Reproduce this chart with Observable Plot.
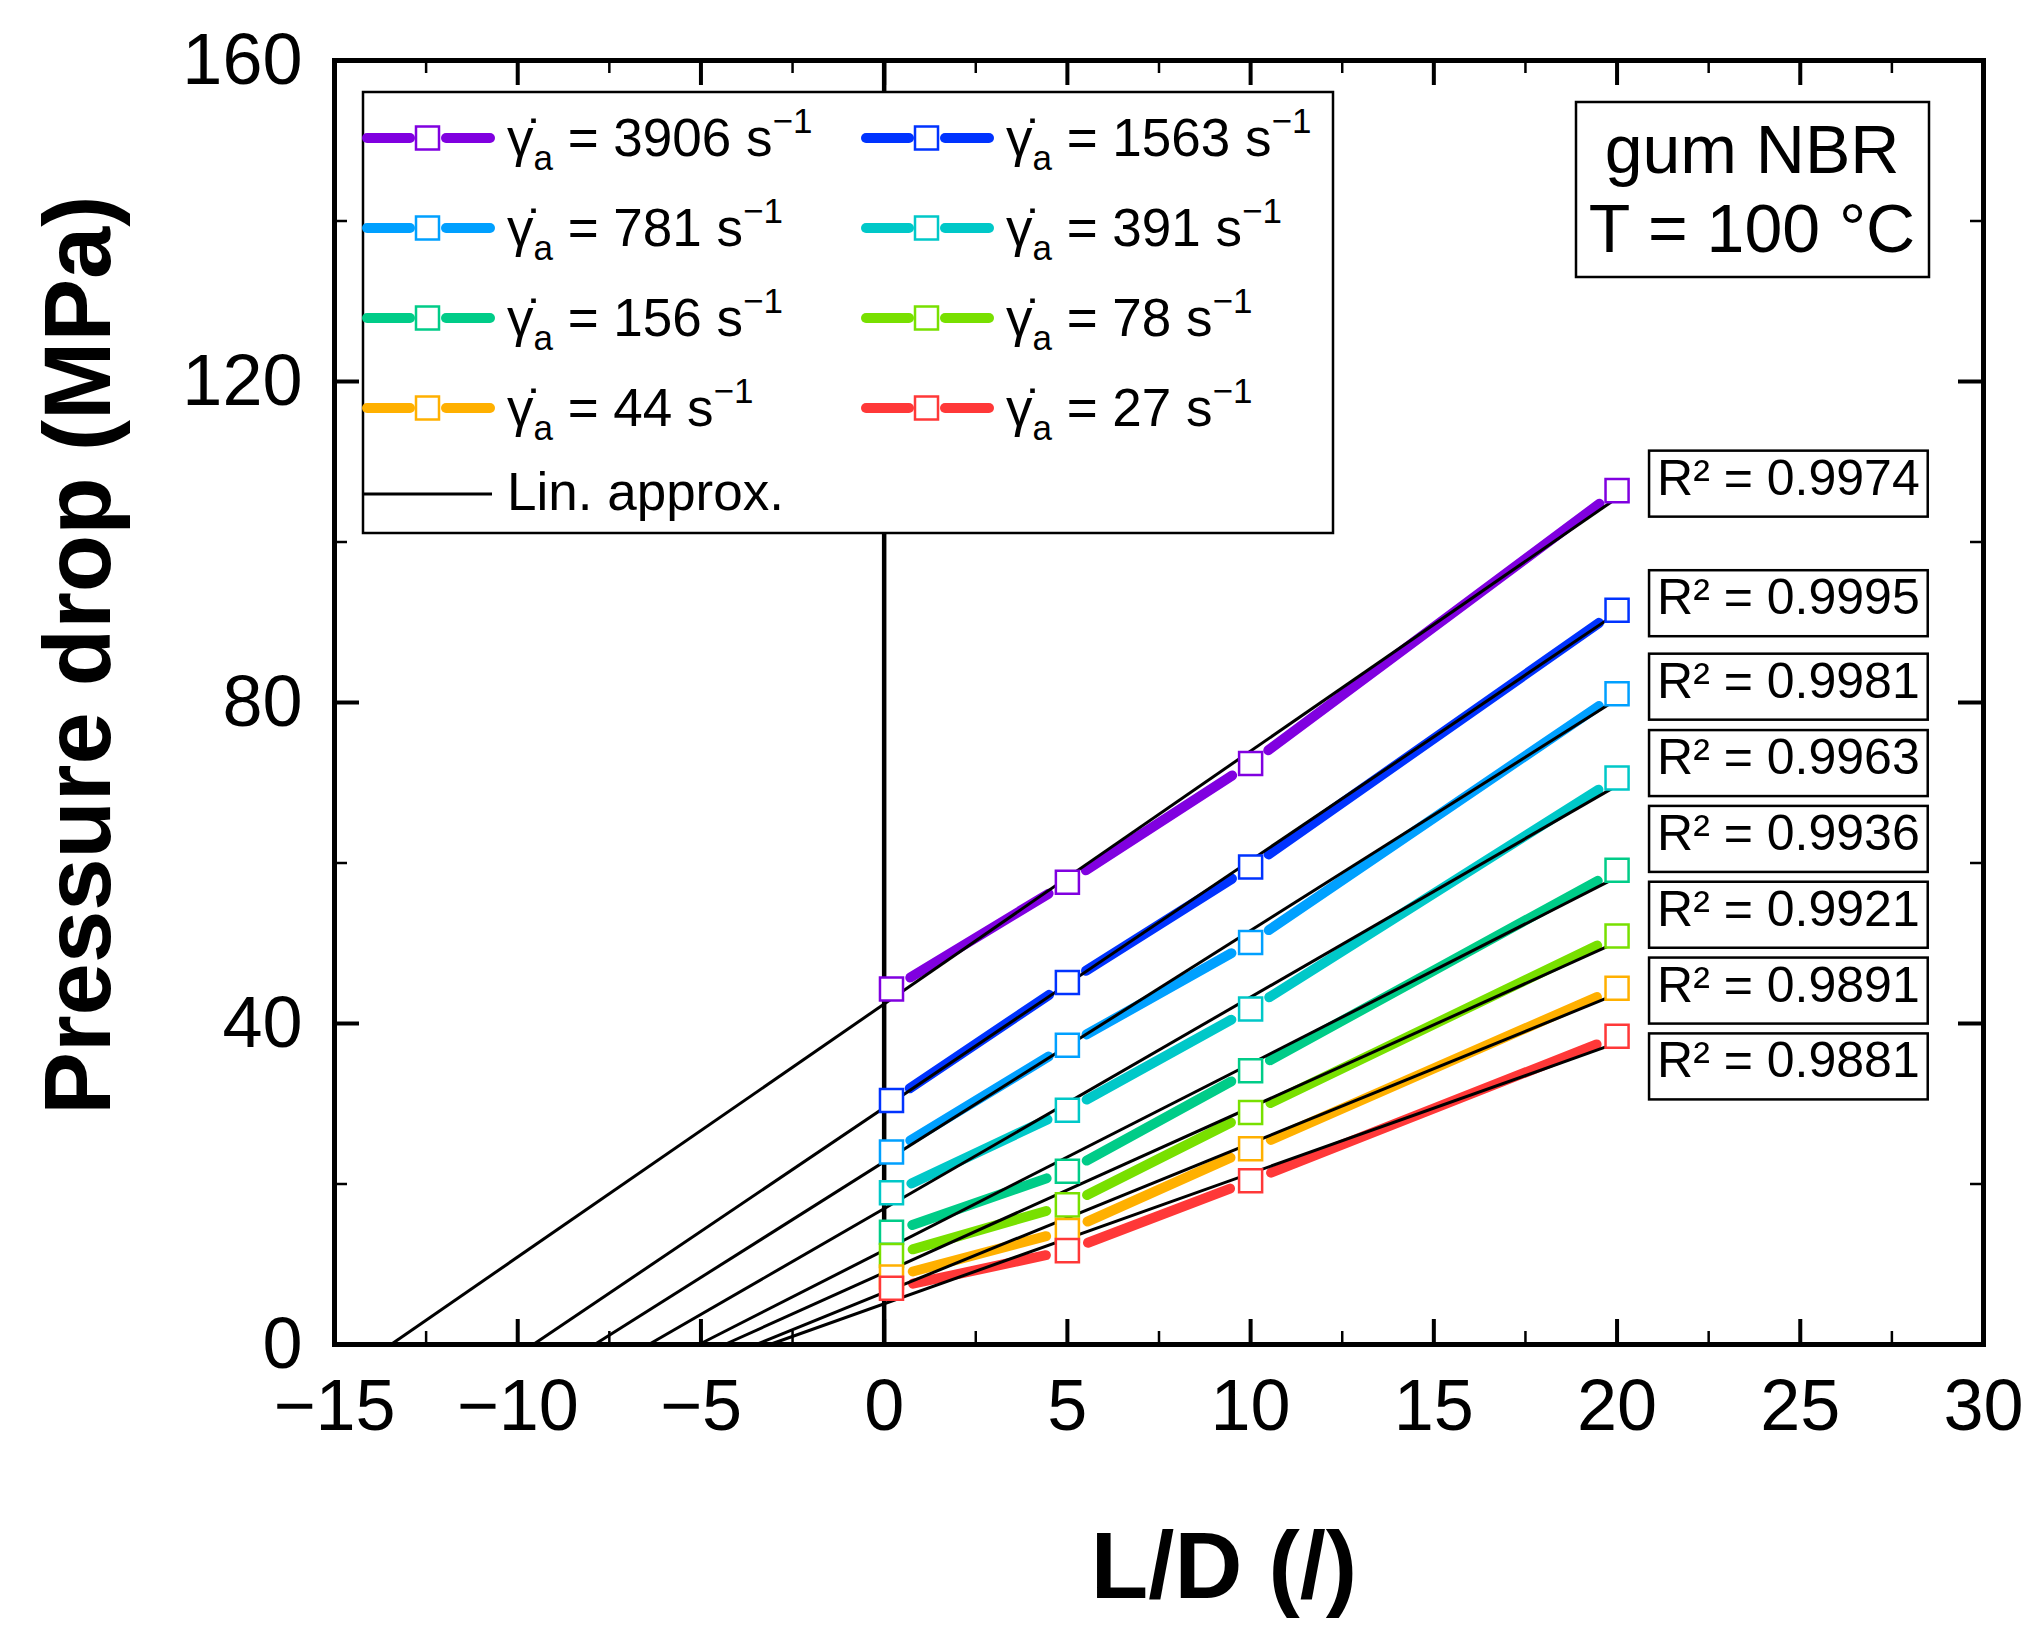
<!DOCTYPE html>
<html>
<head>
<meta charset="utf-8">
<script src="https://cdn.jsdelivr.net/npm/d3@7"></script>
<script src="https://cdn.jsdelivr.net/npm/@observablehq/plot@0.6"></script>
<style>
  html, body { margin: 0; padding: 0; background: #fff; overflow: hidden; }
  #chart { position: relative; width: 2040px; height: 1637px; }
</style>
</head>
<body>
<div id="chart"></div>
<script>
// Apparent shear rates (1/s) and their series colours
const shearRates = [3906, 1563, 781, 391, 156, 78, 44, 27];
const colors = ["#8000E0", "#0033FF", "#00A0FF", "#00C8C8", "#00CC88", "#78E000", "#FFB000", "#FF3838"];

// Die length-to-diameter ratios
const ldRatios = [0.2, 5, 10, 20];

// Measured pressure drop (MPa) for each shear rate
const dp3906 = [44.3, 57.6, 72.4, 106.4];
const dp1563 = [30.4, 45.1, 59.5, 91.5];
const dp781  = [24.0, 37.3, 50.1, 81.1];
const dp391  = [18.9, 29.2, 41.8, 70.6];
const dp156  = [14.0, 21.6, 34.1, 59.1];
const dp78   = [11.1, 17.4, 28.9, 50.9];
const dp44   = [8.4, 14.2, 24.4, 44.4];
const dp27   = [7.0, 11.7, 20.4, 38.4];

// Coefficients of determination of the linear approximations
const rSquared = [0.9974, 0.9995, 0.9981, 0.9963, 0.9936, 0.9921, 0.9891, 0.9881];

// Axis ticks
const xMajor = [-15, -10, -5, 0, 5, 10, 15, 20, 25, 30];
const xMinor = [-12.5, -7.5, -2.5, 2.5, 7.5, 12.5, 17.5, 22.5, 27.5];
const yMajor = [0, 40, 80, 120, 160];
const yMinor = [20, 60, 100, 140];

const pressureDrops = [dp3906, dp1563, dp781, dp391, dp156, dp78, dp44, dp27];

// Least-squares line through the Bagley points
function linearFit(xs, ys) {
  const mx = d3.mean(xs), my = d3.mean(ys);
  const sxy = d3.sum(xs, (x, i) => (x - mx) * (ys[i] - my));
  const sxx = d3.sum(xs, x => (x - mx) ** 2);
  const slope = sxy / sxx;
  return {slope, intercept: my - slope * mx};
}

const series = shearRates.map((rate, i) => ({
  rate,
  color: colors[i],
  values: pressureDrops[i],
  r2: rSquared[i],
  fit: linearFit(ldRatios, pressureDrops[i])
}));

const points = series.flatMap(s => s.values.map((v, j) => ({ld: ldRatios[j], dp: v, color: s.color})));
const segments = series.flatMap(s => s.values.slice(1).map((v, j) => ({
  x1: ldRatios[j], y1: s.values[j], x2: ldRatios[j + 1], y2: v, color: s.color
})));
const xEnd = d3.max(ldRatios);
const fits = series.map(s => ({
  x1: -s.fit.intercept / s.fit.slope, y1: 0,
  x2: xEnd, y2: s.fit.intercept + s.fit.slope * xEnd
}));

// Spread the R² labels vertically so they do not overlap
function spreadLabels(targets, gap) {
  let clusters = targets.map((t, i) => ({members: [i], center: t}));
  let merged = true;
  while (merged) {
    merged = false;
    for (let k = 0; k < clusters.length - 1; k++) {
      const a = clusters[k], b = clusters[k + 1];
      const aLow = a.center - (a.members.length - 1) * gap / 2;
      const bHigh = b.center + (b.members.length - 1) * gap / 2;
      if (aLow - bHigh < gap) {
        const members = a.members.concat(b.members);
        clusters.splice(k, 2, {members, center: d3.mean(members, m => targets[m])});
        merged = true;
        break;
      }
    }
  }
  const out = [];
  for (const c of clusters) {
    c.members.forEach((m, j) => { out[m] = c.center + ((c.members.length - 1) / 2 - j) * gap; });
  }
  return out;
}
const labelY = spreadLabels(series.map(s => s.values[s.values.length - 1]), 9.45);
const r2Labels = series.map((s, i) => ({x: xEnd, y: labelY[i], text: `R² = ${d3.format(".4f")(s.r2)}`}));

const W = 2040, H = 1637;
const mTop = 60, mRight = 57, mBottom = 293, mLeft = 334;
const innerW = W - mLeft - mRight;
const innerH = H - mTop - mBottom;
const FONT = "'Liberation Sans', Arial, Helvetica, sans-serif";

const chart = Plot.plot({
  width: W,
  height: H,
  marginTop: mTop, marginRight: mRight, marginBottom: mBottom, marginLeft: mLeft,
  x: {domain: [-15, 30]},
  y: {domain: [0, 160]},
  color: {type: "identity"},
  style: {fontFamily: FONT, background: "white", color: "black", overflow: "visible"},
  marks: [
    Plot.ruleX([0], {stroke: "black", strokeWidth: 4.5}),
    Plot.arrow(segments, {
      x1: "x1", y1: "y1", x2: "x2", y2: "y2",
      stroke: "color", strokeWidth: 10, headLength: 0,
      insetStart: 22, insetEnd: 22
    }),
    Plot.link(fits, {x1: "x1", y1: "y1", x2: "x2", y2: "y2", stroke: "black", strokeWidth: 3}),
    Plot.dot(points, {
      x: "ld", y: "dp", symbol: "square", r: 13,
      stroke: "color", fill: "white", strokeWidth: 2.5
    }),
    // inward ticks on all four sides
    Plot.tickX(xMajor, {x: d => d, insetTop: innerH - 25, strokeWidth: 4}),
    Plot.tickX(xMinor, {x: d => d, insetTop: innerH - 13, strokeWidth: 2.5}),
    Plot.tickX(xMajor, {x: d => d, insetBottom: innerH - 25, strokeWidth: 4}),
    Plot.tickX(xMinor, {x: d => d, insetBottom: innerH - 13, strokeWidth: 2.5}),
    Plot.tickY(yMajor, {y: d => d, insetRight: innerW - 25, strokeWidth: 4}),
    Plot.tickY(yMinor, {y: d => d, insetRight: innerW - 13, strokeWidth: 2.5}),
    Plot.tickY(yMajor, {y: d => d, insetLeft: innerW - 25, strokeWidth: 4}),
    Plot.tickY(yMinor, {y: d => d, insetLeft: innerW - 13, strokeWidth: 2.5}),
    Plot.axisX(xMajor, {tickSize: 0, tickPadding: 34, fontSize: 72, label: null}),
    Plot.axisY(yMajor, {tickSize: 0, tickPadding: 32, fontSize: 72, label: null}),
    Plot.frame({stroke: "black", strokeWidth: 5}),
    Plot.text(r2Labels, {
      x: "x", y: "y", text: "text", textAnchor: "start",
      dx: 40, dy: -12, fontSize: 50, fill: "black"
    })
  ]
});

document.getElementById("chart").appendChild(chart);

const svg = d3.select(chart);
const NS = "http://www.w3.org/2000/svg";

// Boxes around the R² labels
Array.from(chart.querySelectorAll("text"))
  .filter(t => t.textContent.startsWith("R²"))
  .forEach(t => {
    const b = t.getBBox();
    const rect = document.createElementNS(NS, "rect");
    rect.setAttribute("x", b.x - 8);
    rect.setAttribute("y", b.y + 1);
    rect.setAttribute("width", b.width + 16);
    rect.setAttribute("height", b.height + 10);
    rect.setAttribute("fill", "white");
    rect.setAttribute("stroke", "black");
    rect.setAttribute("stroke-width", 2.5);
    if (t.getAttribute("transform")) rect.setAttribute("transform", t.getAttribute("transform"));
    t.parentNode.insertBefore(rect, t);
  });

// Axis titles
svg.append("text")
  .attr("transform", "translate(110,655) rotate(-90)")
  .attr("text-anchor", "middle")
  .attr("font-family", FONT).attr("font-weight", "bold").attr("font-size", 94)
  .attr("fill", "black")
  .text("Pressure drop (MPa)");
svg.append("text")
  .attr("x", 1224).attr("y", 1598)
  .attr("text-anchor", "middle")
  .attr("font-family", FONT).attr("font-weight", "bold").attr("font-size", 94)
  .attr("fill", "black")
  .text("L/D (/)");

// Material / temperature box
const info = svg.append("g").attr("font-family", FONT).attr("fill", "black").attr("text-anchor", "middle");
info.append("rect")
  .attr("x", 1576).attr("y", 102).attr("width", 353).attr("height", 175)
  .attr("fill", "white").attr("stroke", "black").attr("stroke-width", 2.5);
info.append("text").attr("x", 1752).attr("y", 173).attr("font-size", 68).text("gum NBR");
info.append("text").attr("x", 1752).attr("y", 252).attr("font-size", 68).text("T = 100 °C");

// Legend
const legend = svg.append("g").attr("font-family", FONT).attr("fill", "black").attr("text-anchor", "start");
legend.append("rect")
  .attr("x", 363).attr("y", 92).attr("width", 970).attr("height", 441)
  .attr("fill", "white").attr("stroke", "black").attr("stroke-width", 2.5);
series.forEach((s, i) => {
  const col = i % 2, row = Math.floor(i / 2);
  const x0 = 362 + col * 499;
  const y = 138 + row * 90;
  const item = legend.append("g");
  item.append("line").attr("x1", x0 + 5).attr("x2", x0 + 48).attr("y1", y).attr("y2", y)
    .attr("stroke", s.color).attr("stroke-width", 10).attr("stroke-linecap", "round");
  item.append("line").attr("x1", x0 + 84).attr("x2", x0 + 128).attr("y1", y).attr("y2", y)
    .attr("stroke", s.color).attr("stroke-width", 10).attr("stroke-linecap", "round");
  item.append("rect").attr("x", x0 + 54).attr("y", y - 11.5).attr("width", 23).attr("height", 23)
    .attr("fill", "white").attr("stroke", s.color).attr("stroke-width", 2.5);
  const t = item.append("text").attr("x", x0 + 145).attr("y", y + 18).attr("font-size", 53);
  t.append("tspan").text("γ\u0307");
  t.append("tspan").attr("font-size", 35).attr("dy", 14).text("a");
  t.append("tspan").attr("dy", -14).text(` = ${s.rate} s`);
  t.append("tspan").attr("font-size", 35).attr("dy", -23).text("\u22121");
});
legend.append("line").attr("x1", 363).attr("x2", 492).attr("y1", 494).attr("y2", 494)
  .attr("stroke", "black").attr("stroke-width", 3);
legend.append("text").attr("x", 507).attr("y", 510).attr("font-size", 53).text("Lin. approx.");
</script>
</body>
</html>
